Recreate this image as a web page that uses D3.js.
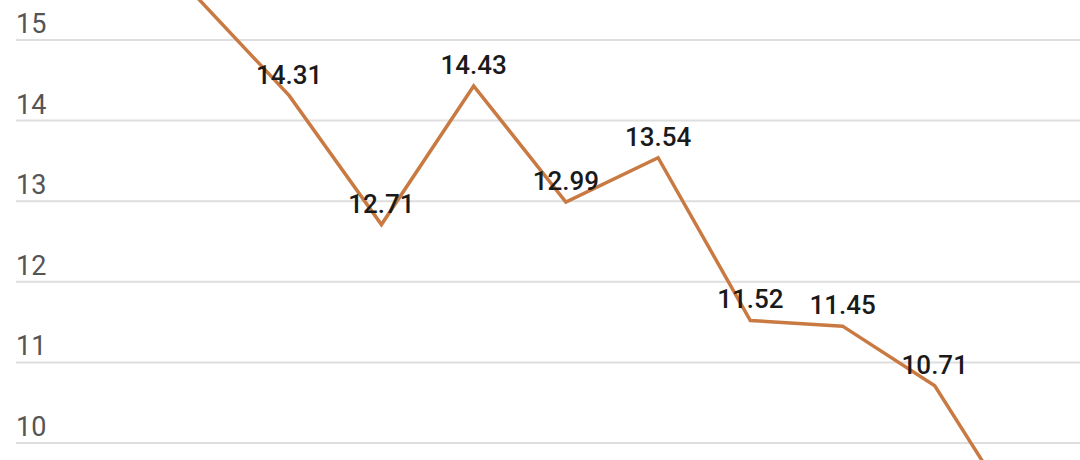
<!DOCTYPE html>
<html>
<head>
<meta charset="utf-8">
<script src="https://cdn.jsdelivr.net/npm/d3@7"></script>
<style>
    body { margin: 0; background: #fff; }
    svg { display: block; }
    .grid line { stroke: #dedede; stroke-width: 2; }
    .tick-label { font-family: Roboto, sans-serif; font-size: 27px; fill: #555; }
    .value-label { font-family: Roboto, sans-serif; font-size: 26px; font-weight: 500; fill: #1a1a1a; }
</style>
</head>
<body>
<script>
// data (first and last points are cropped in the reference)
var points = [0, 1, 2, 3, 4, 5, 6, 7, 8, 9]
var values = [15.53, 14.31, 12.71, 14.43, 12.99, 13.54, 11.52, 11.45, 10.71, 8.9]
var yTicks = [10, 11, 12, 13, 14, 15]

const width = 1080
const height = 460

var svg = d3.select("body")
    .append("svg")
    .attr("width", width)
    .attr("height", height)

//x positions of the points
var xScale = d3.scaleLinear()
    .domain([0, 9])
    .range([197, 1027])

var yScale = d3.scaleLinear()
    .domain([10, 15])
    .range([443, 40])

//gridlines
svg.append("g")
    .attr("class", "grid")
    .selectAll("line")
    .data(yTicks)
    .enter()
    .append("line")
    .attr("x1", 16)
    .attr("x2", width)
    .attr("y1", (d) => yScale(d))
    .attr("y2", (d) => yScale(d))

//tick labels sit above the gridline
svg.append("g")
    .selectAll("text")
    .data(yTicks)
    .enter()
    .append("text")
    .attr("class", "tick-label")
    .attr("x", 16)
    .attr("y", (d) => yScale(d) - 7)
    .text((d) => d)

//the line
var line = d3.line()
    .x((d, i) => xScale(points[i]))
    .y((d) => yScale(d))

svg.append("path")
    .datum(values)
    .attr("fill", "none")
    .attr("stroke", "#c97a43")
    .attr("stroke-width", 3.5)
    .attr("d", line)

//value labels, only for points inside the view
var labelData = values
    .map((v, i) => ({ x: xScale(points[i]), y: yScale(v) - 12, v: v }))
    .filter((d) => d.y - 20 > 0 && d.y < height)

svg.append("g")
    .selectAll("text")
    .data(labelData)
    .enter()
    .append("text")
    .attr("class", "value-label")
    .attr("text-anchor", "middle")
    .attr("x", (d) => d.x)
    .attr("y", (d) => d.y)
    .text((d) => d.v.toFixed(2))
</script>
</body>
</html>
